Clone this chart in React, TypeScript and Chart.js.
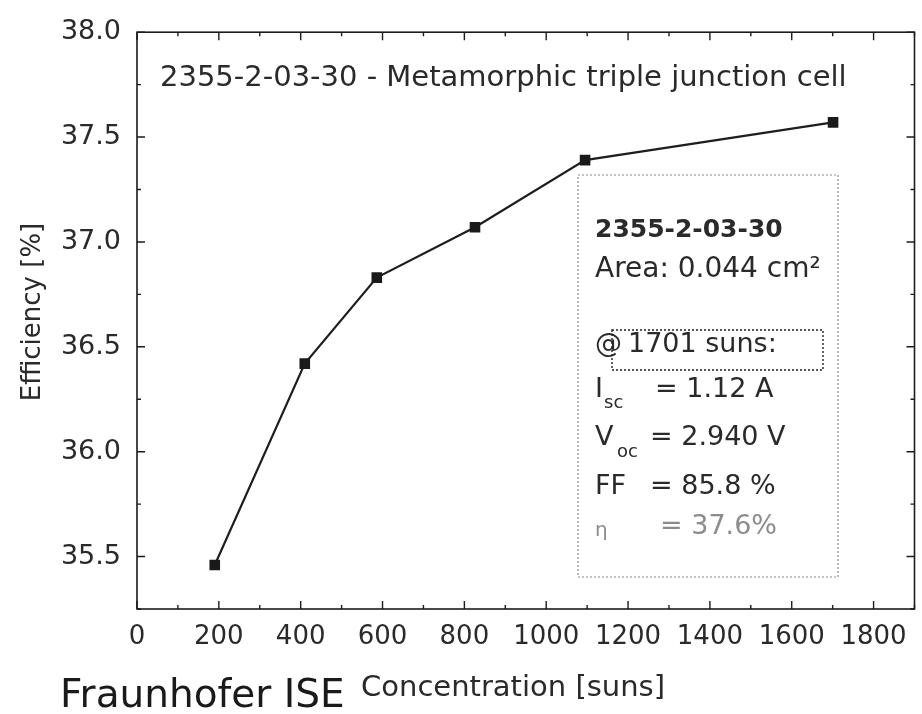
import React, { useEffect, useRef } from "react";
import { Chart, registerables } from "chart.js";

Chart.register(...registerables);

// Efficiency of the metamorphic triple junction cell versus concentration
const concentration = [190, 410, 586, 826, 1095, 1701];
const efficiency = [35.46, 36.42, 36.83, 37.07, 37.39, 37.57];

// Axis ranges and tick positions
const xRange = [0, 1900];
const yRange = [35.25, 38.0];
const xMajorTicks = [0, 200, 400, 600, 800, 1000, 1200, 1400, 1600, 1800];
const xMinorTicks = [100, 300, 500, 700, 900, 1100, 1300, 1500, 1700, 1900];
const yMajorTicks = [35.5, 36.0, 36.5, 37.0, 37.5, 38.0];
const yMinorTicks = [35.25, 35.75, 36.25, 36.75, 37.25, 37.75];

// Text
const chartTitle = "2355-2-03-30 - Metamorphic triple junction cell";
const xTitle = "Concentration [suns]";
const yTitle = "Efficiency [%]";
const footer = "Fraunhofer ISE";
const cellId = "2355-2-03-30";
const cellArea = "Area: 0.044 cm²";
const atSuns = "@";
const sunsLabel = "1701 suns:";
const iscValue = "= 1.12 A";
const vocValue = "= 2.940 V";
const ffValue = "= 85.8 %";
const etaValue = "= 37.6%";

const FONT = '"DejaVu Sans", "Liberation Sans", Arial, sans-serif';
const INK = "#2a2a2a";

const decorPlugin = {
  id: "decor",
  beforeDatasetsDraw(chart: any) {
    const { ctx, chartArea: a, scales } = chart;
    const x = scales.x;
    const y = scales.y;
    ctx.save();
    ctx.strokeStyle = "#1c1c1c";
    ctx.lineWidth = 1.6;
    ctx.strokeRect(a.left, a.top, a.right - a.left, a.bottom - a.top);

    const drawX = (v: number, len: number) => {
      const px = x.getPixelForValue(v);
      ctx.beginPath();
      ctx.moveTo(px, a.bottom);
      ctx.lineTo(px, a.bottom - len);
      ctx.moveTo(px, a.top);
      ctx.lineTo(px, a.top + len);
      ctx.stroke();
    };
    const drawY = (v: number, len: number) => {
      const py = y.getPixelForValue(v);
      ctx.beginPath();
      ctx.moveTo(a.left, py);
      ctx.lineTo(a.left + len, py);
      ctx.moveTo(a.right, py);
      ctx.lineTo(a.right - len, py);
      ctx.stroke();
    };
    ctx.lineWidth = 1.4;
    xMajorTicks.forEach((v) => drawX(v, 8));
    xMinorTicks.forEach((v) => drawX(v, 4));
    yMajorTicks.forEach((v) => drawY(v, 8));
    yMinorTicks.forEach((v) => drawY(v, 4));
    ctx.restore();
  },
  afterDraw(chart: any) {
    const { ctx, chartArea: a } = chart;
    ctx.save();
    ctx.fillStyle = INK;
    ctx.textBaseline = "middle";
    ctx.textAlign = "left";

    // title inside the frame
    ctx.font = `29px ${FONT}`;
    ctx.fillText(chartTitle, a.left + 23, a.top + 46);

    // axis titles
    ctx.textAlign = "center";
    ctx.font = `29px ${FONT}`;
    ctx.fillText(xTitle, 513, 688);
    ctx.save();
    ctx.translate(33, 312);
    ctx.rotate(-Math.PI / 2);
    ctx.font = `26px ${FONT}`;
    ctx.fillText(yTitle, 0, 0);
    ctx.restore();

    ctx.textAlign = "left";
    ctx.font = `39px ${FONT}`;
    ctx.fillStyle = "#1a1a1a";
    ctx.fillText(footer, 60, 697);

    // result box
    const bx = 578, by = 175, bw = 260, bh = 402;
    ctx.strokeStyle = "#8a8a8a";
    ctx.lineWidth = 1.2;
    ctx.setLineDash([2, 2]);
    ctx.strokeRect(bx, by, bw, bh);

    ctx.strokeStyle = "#222";
    ctx.lineWidth = 1.4;
    ctx.strokeRect(612, 330, 211, 40);
    ctx.setLineDash([]);

    const tx = 595;
    ctx.fillStyle = INK;
    ctx.font = `bold 25px ${FONT}`;
    ctx.fillText(cellId, tx, 230);
    ctx.font = `28px ${FONT}`;
    ctx.fillText(cellArea, tx, 270);
    ctx.font = `27px ${FONT}`;
    ctx.fillText(atSuns, tx, 345);
    ctx.fillText(sunsLabel, 628, 345);

    ctx.fillText("I", tx, 390);
    ctx.font = `18px ${FONT}`;
    ctx.fillText("sc", 604, 403);
    ctx.font = `27px ${FONT}`;
    ctx.fillText(iscValue, 655, 390);

    ctx.fillText("V", tx, 438);
    ctx.font = `18px ${FONT}`;
    ctx.fillText("oc", 617, 452);
    ctx.font = `27px ${FONT}`;
    ctx.fillText(vocValue, 650, 438);

    ctx.fillText("FF", tx, 487);
    ctx.fillText(ffValue, 650, 487);

    ctx.fillStyle = "#8c8c8c";
    ctx.font = `20px ${FONT}`;
    ctx.fillText("η", tx, 531);
    ctx.font = `27px ${FONT}`;
    ctx.fillText(etaValue, 660, 527);

    ctx.restore();
  },
};

export default function App() {
  const canvasRef = useRef<HTMLCanvasElement | null>(null);

  useEffect(() => {
    const canvas = canvasRef.current;
    if (!canvas) return;
    const chart = new Chart(canvas, {
      type: "line",
      data: {
        datasets: [
          {
            data: concentration.map((c, i) => ({ x: c, y: efficiency[i] })),
            borderColor: "#1e1e1e",
            borderWidth: 2.2,
            backgroundColor: "#1a1a1a",
            pointStyle: "rect",
            pointRadius: 7.5,
            pointBorderWidth: 0,
            pointBackgroundColor: "#1a1a1a",
            tension: 0,
            fill: false,
          },
        ],
      },
      options: {
        animation: false,
        responsive: false,
        devicePixelRatio: 1,
        layout: { padding: { top: 26, right: 7, left: 0, bottom: 0 } },
        plugins: {
          legend: { display: false },
          tooltip: { enabled: false },
          title: { display: false },
        },
        scales: {
          x: {
            type: "linear",
            min: xRange[0],
            max: xRange[1],
            grid: { display: false, drawTicks: false },
            border: { display: false },
            afterBuildTicks: (scale: any) => {
              scale.ticks = xMajorTicks.map((v) => ({ value: v }));
            },
            afterFit: (scale: any) => {
              scale.height = 105;
            },
            ticks: {
              color: INK,
              font: { family: FONT, size: 26 },
              padding: 13,
              maxRotation: 0,
              autoSkip: false,
              callback: (v: any) => String(v),
            },
          },
          y: {
            type: "linear",
            min: yRange[0],
            max: yRange[1],
            grid: { display: false, drawTicks: false },
            border: { display: false },
            afterBuildTicks: (scale: any) => {
              scale.ticks = yMajorTicks.map((v) => ({ value: v }));
            },
            afterFit: (scale: any) => {
              scale.width = 137;
            },
            ticks: {
              color: INK,
              font: { family: FONT, size: 27 },
              padding: 16,
              autoSkip: false,
              callback: (v: any) => Number(v).toFixed(1),
            },
          },
        },
      },
      plugins: [decorPlugin],
    });
    return () => chart.destroy();
  }, []);

  return (
    <div
      style={{
        position: "absolute",
        left: 0,
        top: 0,
        width: 922,
        height: 714,
        background: "#fff",
      }}
    >
      <canvas ref={canvasRef} width={922} height={714} />
    </div>
  );
}
